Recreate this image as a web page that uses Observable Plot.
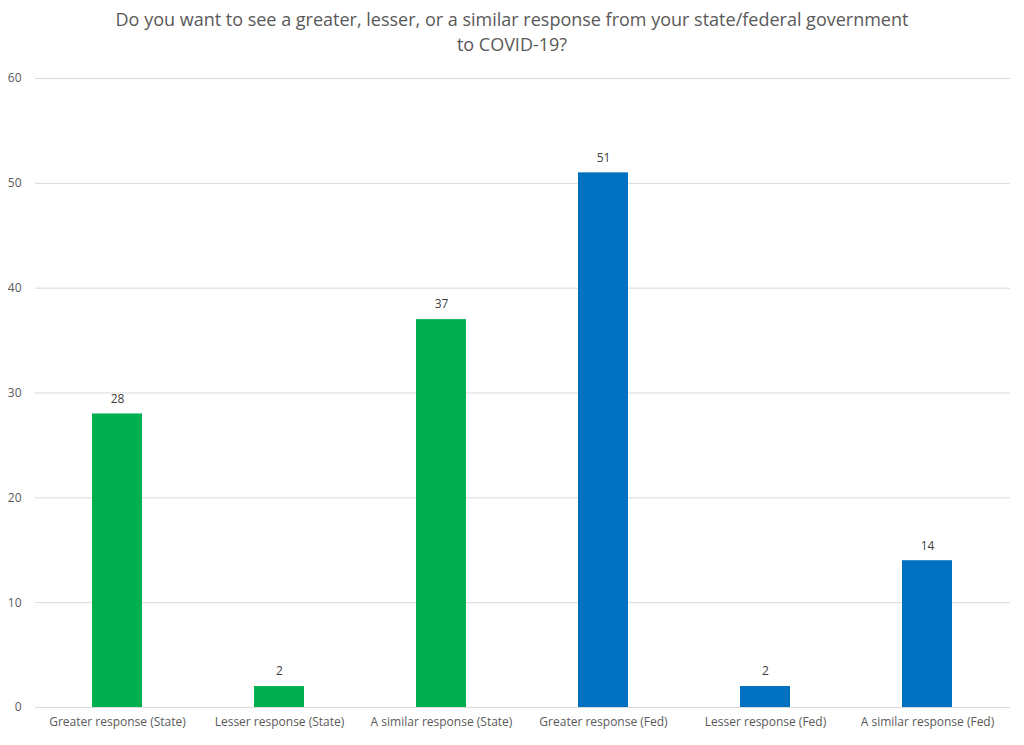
<!DOCTYPE html>
<html>
<head>
<meta charset="utf-8">
<script src="https://cdn.jsdelivr.net/npm/d3@7"></script>
<script src="https://cdn.jsdelivr.net/npm/@observablehq/plot@0.6"></script>
<style>
  body { margin: 0; background: #fff; }
  #title { height: 70px; box-sizing: border-box; padding-top: 7px; text-align: center;
    font-family: "Open Sans", sans-serif; font-size: 18px; color: #595959; line-height: 25px; }
</style>
</head>
<body>
<div id="title">Do you want to see a greater, lesser, or a similar response from your state/federal government<br>to COVID-19?</div>
<div id="chart"></div>
<script>
const categories = ["Greater response (State)", "Lesser response (State)", "A similar response (State)",
  "Greater response (Fed)", "Lesser response (Fed)", "A similar response (Fed)"];
const values = [28, 2, 37, 51, 2, 14];
const groups = ["State", "State", "State", "Fed", "Fed", "Fed"];
const yTicks = [0, 10, 20, 30, 40, 50, 60];

const data = categories.map((c, i) => ({category: c, value: values[i], group: groups[i]}));

const chart = Plot.plot({
  width: 1024,
  height: 675,
  marginTop: 8,
  marginBottom: 38,
  marginLeft: 35,
  marginRight: 14,
  style: {fontFamily: "'Open Sans', sans-serif", fontSize: "12px", color: "#595959", background: "#fff"},
  x: {domain: categories, paddingInner: 0.69, paddingOuter: 0.345, label: null, tickSize: 0, tickPadding: 10},
  y: {domain: [0, 60], ticks: yTicks, label: null, tickSize: 0, tickPadding: 14},
  color: {domain: ["State", "Fed"], range: ["#00B050", "#0070C0"]},
  marks: [
    Plot.gridY(yTicks, {stroke: "#d9d9d9", strokeOpacity: 1}),
    Plot.barY(data, {x: "category", y: "value", fill: "group"}),
    Plot.text(data, {x: "category", y: "value", text: d => String(d.value), dy: -15, fill: "#404040", fontSize: 12}),
    Plot.ruleY([0], {stroke: "#d9d9d9"})
  ]
});
document.getElementById("chart").appendChild(chart);
</script>
</body>
</html>
